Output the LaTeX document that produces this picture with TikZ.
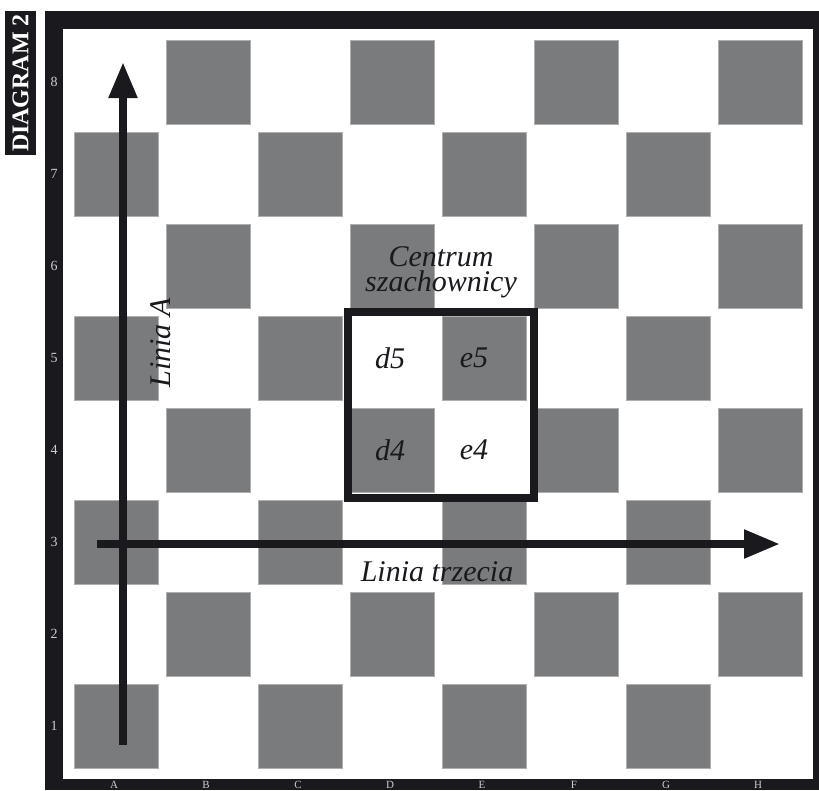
\documentclass[tikz,border=0pt]{standalone}
\usepackage{fontspec}
\setmainfont{Liberation Serif}
\usepackage{xcolor}
\usetikzlibrary{arrows.meta}

\definecolor{frameblack}{RGB}{26,25,30}
\definecolor{boardgray}{RGB}{122,123,125}
\definecolor{lblgray}{RGB}{205,205,208}

\begin{document}
\begin{tikzpicture}[
    x=1pt, y=-1pt,
    every node/.style={inner sep=0pt},
    darksq/.style={fill=boardgray, draw=boardgray!60!white, line width=0.6pt},
    coordlbl/.style={text=lblgray, font=\fontsize{14}{14}\selectfont},
    tagbox/.style={fill=frameblack, text=white, rotate=90, minimum width=144pt, minimum height=31pt, font=\fontsize{24}{24}\bfseries\selectfont},
    bigarrow/.style={-{Triangle[length=36pt, width=27pt]}, line width=8pt, draw=frameblack},
    centreframe/.style={draw=frameblack, line width=8pt, minimum size=186pt},
    itlbl/.style={text=frameblack, font=\fontsize{30}{30}\itshape\selectfont},
    sqlbl/.style={text=frameblack, font=\fontsize{30}{30}\itshape\selectfont}
]
\useasboundingbox (0,0) rectangle (819,790);
\clip (0,0) rectangle (819,790);

% ── Frame and tag ──
\fill[frameblack] (45,11) rectangle (819,790);
\fill[white] (63,29) rectangle (813,779);
\node[tagbox] (tag) at (20.5,83) {DIAGRAM 2};

% ── Dark squares ──
\foreach \col in {0,...,7}
  \foreach \row in {0,...,7}{
    \pgfmathtruncatemacro{\odd}{mod(\col+\row,2)}
    \ifnum\odd=0
      \filldraw[darksq] ({116+92*\col-42},{726-92*\row-42}) rectangle +(84,84);
    \fi
  }

% ── Ranks and files ──
\foreach \num [count=\k from 0] in {1,...,8}
  \node[coordlbl] (rank\num) at (54,{726-92*\k}) {\num};
\foreach \fl [count=\k from 0] in {A,B,C,D,E,F,G,H}
  \node[coordlbl, anchor=base, font=\fontsize{11}{11}\selectfont] (file\fl) at ({114+92*\k},788.5) {\fl};

% ── Centre of the board ──
\node[centreframe] (centre) at (441,405) {};
\node[itlbl, anchor=base] (centrum) at (441,266) {Centrum};
\node[itlbl, anchor=base] (szach) at (441,291) {szachownicy};
\node[sqlbl] (d5) at (390,358) {d5};
\node[sqlbl] (e5) at (474,358) {e5};
\node[sqlbl] (d4) at (390,450) {d4};
\node[sqlbl] (e4) at (474,450) {e4};

% ── Lines ──
\coordinate (fileA-base) at (123,745);
\coordinate (fileA-top)  at (123,62);
\coordinate (rank3-start) at (97,544);
\coordinate (rank3-end)   at (780,544);

\draw[bigarrow] (fileA-base) -- (fileA-top);
\draw[bigarrow] (rank3-start) -- (rank3-end);

\node[itlbl, rotate=90] (linA) at (161,343) {Linia A};
\node[itlbl] (lin3) at (437,572) {Linia trzecia};

\end{tikzpicture}
\end{document}
